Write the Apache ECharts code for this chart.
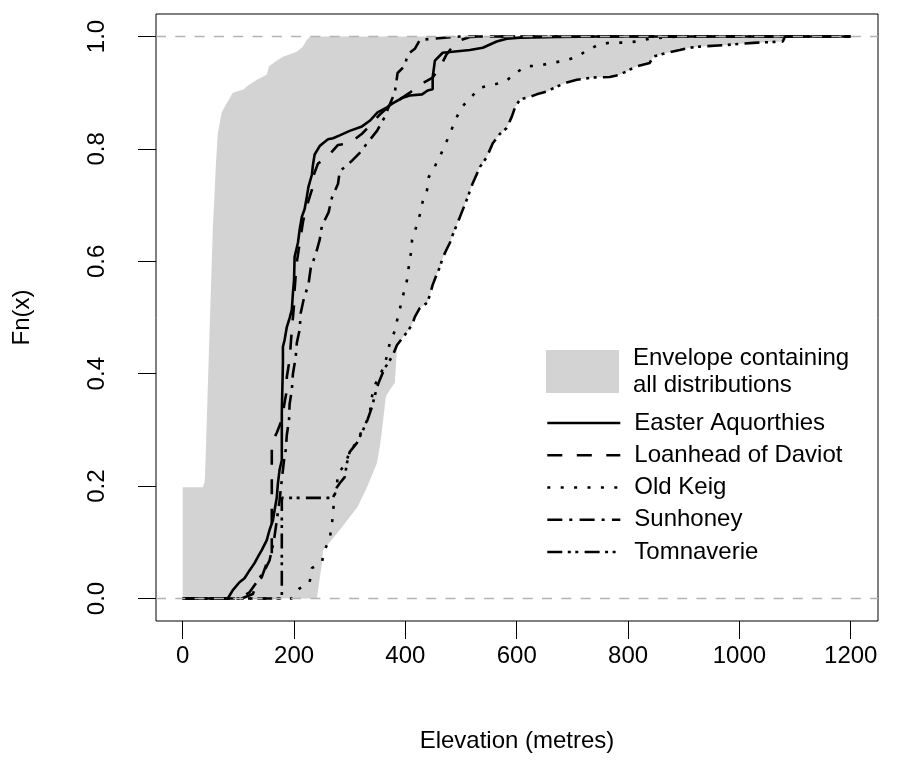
<!DOCTYPE html>
<html>
<head>
<meta charset="utf-8">
<script src="https://cdn.jsdelivr.net/npm/echarts@6/dist/echarts.min.js"></script>
<style>
html,body{margin:0;padding:0;background:#fff;}
#chart{width:898px;height:776px;}
</style>
</head>
<body>
<div id="chart"></div>
<script>
// ---- data (elevation in metres, cumulative proportion) ----
const xTicks = [0, 200, 400, 600, 800, 1000, 1200];
const yTicks = [0, 0.2, 0.4, 0.6, 0.8, 1.0];

const envelopeName = 'Envelope containing\nall distributions';
const siteNames = ['Easter Aquorthies', 'Loanhead of Daviot', 'Old Keig', 'Sunhoney', 'Tomnaverie'];

// upper-left edge of the envelope (max of all ECDFs)
const envelopeUpper = [[0,0],[0,0.198],[36,0.198],[39,0.206],[40,0.215],[47,0.437],[54,0.656],[60,0.78],[63,0.827],[70,0.865],[79,0.881],[90,0.9],[110,0.906],[115,0.911],[133,0.923],[151,0.932],[155,0.947],[166,0.955],[180,0.964],[205,0.973],[216,0.982],[223,0.994],[229,1],[1200,1]];
// lower-right edge of the envelope (min of all ECDFs)
const envelopeLower = [[0,0],[241,0],[250,0.063],[252,0.086],[282,0.122],[314,0.163],[331,0.198],[349,0.241],[354,0.27],[358,0.3],[365,0.36],[372,0.371],[381,0.384],[384,0.43],[385,0.451],[395,0.464],[403,0.474],[412,0.487],[417,0.501],[426,0.517],[439,0.526],[444,0.54],[449,0.558],[456,0.576],[462,0.59],[467,0.606],[474,0.621],[480,0.633],[485,0.647],[498,0.679],[510,0.709],[521,0.739],[534,0.768],[546,0.785],[557,0.81],[570,0.827],[582,0.837],[591,0.857],[597,0.874],[606,0.888],[618,0.891],[636,0.897],[654,0.902],[672,0.911],[690,0.918],[708,0.923],[737,0.927],[767,0.928],[785,0.932],[803,0.941],[816,0.947],[839,0.953],[845,0.964],[870,0.971],[893,0.976],[911,0.98],[929,0.982],[978,0.985],[1001,0.987],[1032,0.989],[1078,0.991],[1082,1],[1200,1]];

const easterAquorthies = [[0,0],[81,0],[90,0.015],[102,0.029],[111,0.036],[120,0.05],[129,0.063],[135,0.074],[142,0.086],[151,0.104],[156,0.122],[162,0.139],[165,0.157],[169,0.18],[171,0.205],[174,0.229],[178,0.246],[178,0.33],[180,0.419],[180,0.448],[183,0.46],[187,0.483],[192,0.499],[196,0.514],[198,0.544],[200,0.567],[201,0.608],[207,0.633],[210,0.656],[214,0.679],[219,0.693],[223,0.715],[226,0.733],[232,0.754],[234,0.772],[237,0.79],[246,0.805],[252,0.81],[261,0.817],[270,0.819],[282,0.824],[300,0.832],[322,0.84],[336,0.85],[350,0.865],[367,0.874],[377,0.881],[395,0.891],[408,0.895],[430,0.897],[440,0.904],[449,0.906],[449,0.927],[453,0.957],[467,0.971],[516,0.976],[539,0.98],[564,0.991],[582,0.996],[606,0.998],[678,0.999],[749,1],[1200,1]];

const loanheadOfDaviot = [[0,0],[106,0],[126,0.008],[133,0.027],[142,0.038],[151,0.063],[160,0.068],[160,0.277],[169,0.295],[180,0.323],[182,0.343],[187,0.371],[187,0.394],[192,0.425],[196,0.478],[200,0.523],[201,0.549],[203,0.576],[205,0.599],[216,0.67],[221,0.692],[232,0.727],[234,0.75],[243,0.774],[259,0.785],[279,0.807],[300,0.81],[322,0.827],[336,0.841],[354,0.861],[372,0.877],[390,0.888],[408,0.9],[426,0.914],[449,0.927],[462,0.945],[474,0.968],[492,0.991],[516,0.999],[534,1],[1200,1]];

const oldKeig = [[0,0],[196,0],[210,0.018],[228,0.029],[232,0.054],[250,0.065],[255,0.086],[264,0.107],[268,0.131],[270,0.154],[273,0.184],[277,0.202],[279,0.223],[291,0.237],[300,0.261],[315,0.282],[322,0.3],[332,0.318],[336,0.33],[341,0.366],[350,0.392],[361,0.41],[367,0.432],[372,0.455],[381,0.476],[386,0.499],[392,0.523],[397,0.544],[403,0.567],[406,0.59],[410,0.615],[412,0.638],[419,0.66],[426,0.683],[431,0.706],[439,0.727],[442,0.75],[453,0.769],[464,0.791],[473,0.811],[482,0.832],[492,0.856],[501,0.874],[518,0.892],[534,0.909],[557,0.914],[580,0.92],[597,0.934],[616,0.947],[640,0.948],[663,0.953],[687,0.957],[708,0.964],[726,0.975],[746,0.985],[767,0.989],[791,0.989],[816,0.991],[839,0.996],[863,0.998],[893,1],[1200,1]];

const sunhoney = [[0,0],[102,0],[120,0.011],[133,0.029],[147,0.05],[156,0.068],[164,0.104],[169,0.139],[174,0.175],[178,0.211],[182,0.246],[185,0.264],[187,0.291],[191,0.318],[192,0.346],[196,0.371],[198,0.4],[203,0.43],[205,0.455],[210,0.478],[212,0.508],[217,0.531],[226,0.56],[230,0.588],[239,0.613],[246,0.638],[250,0.663],[262,0.687],[268,0.713],[279,0.738],[282,0.76],[302,0.777],[318,0.793],[332,0.811],[349,0.832],[363,0.857],[368,0.87],[381,0.9],[386,0.935],[399,0.948],[404,0.968],[417,0.978],[426,0.994],[498,1],[1200,1]];

const tomnaverie = [[0,0],[178,0],[178,0.179],[270,0.179],[277,0.198],[282,0.205],[291,0.216],[295,0.241],[300,0.261],[313,0.277],[324,0.3],[332,0.318],[340,0.341],[349,0.376],[354,0.389],[363,0.41],[376,0.43],[385,0.451],[395,0.464],[403,0.474],[412,0.487],[417,0.501],[426,0.517],[439,0.526],[444,0.54],[449,0.558],[456,0.576],[462,0.59],[467,0.606],[474,0.621],[480,0.633],[485,0.647],[498,0.679],[510,0.709],[521,0.739],[534,0.768],[546,0.785],[557,0.81],[570,0.827],[582,0.837],[591,0.857],[597,0.874],[606,0.888],[618,0.891],[636,0.897],[654,0.902],[672,0.911],[690,0.918],[708,0.923],[737,0.927],[767,0.928],[785,0.932],[803,0.941],[816,0.947],[839,0.953],[845,0.964],[870,0.971],[893,0.976],[911,0.98],[929,0.982],[978,0.985],[1001,0.987],[1032,0.989],[1078,0.991],[1082,1],[1200,1]];

// ---- styling ----
const FONT = 'Liberation Sans, Arial, Helvetica, sans-serif';
const FS = 24;
const siteData = [easterAquorthies, loanheadOfDaviot, oldKeig, sunhoney, tomnaverie];
const siteDash = ['solid', [15, 14.5], [3, 10.4], [15, 7, 3, 7.3], [15, 5.5, 3, 4.5, 3, 6.3]];

const envelopePolygon = envelopeUpper.concat(envelopeLower.slice().reverse());

const chart = echarts.init(document.getElementById('chart'), null, {renderer: 'canvas'});

const series = [
  {
    name: envelopeName,
    type: 'custom',
    z: 1,
    itemStyle: {color: '#d3d3d3'},
    data: [[0, 0]],
    renderItem: function (params, api) {
      if (params.dataIndex !== 0) return;
      const pts = envelopePolygon.map(function (p) { return api.coord(p); });
      return {type: 'polygon', shape: {points: pts}, style: {fill: '#d3d3d3', stroke: null}};
    }
  },
  {
    name: 'refLines',
    type: 'line',
    data: [],
    z: 2,
    markLine: {
      silent: true,
      symbol: 'none',
      label: {show: false},
      animation: false,
      lineStyle: {color: '#b3b3b3', type: [10, 9.3], width: 1.3},
      data: [{yAxis: 0}, {yAxis: 1}]
    }
  }
];
siteNames.forEach(function (n, i) {
  series.push({
    name: n,
    type: 'line',
    data: siteData[i],
    z: 3,
    symbol: 'none',
    showSymbol: false,
    smooth: false,
    color: '#000',
    lineStyle: {color: '#000', width: 2.6, type: siteDash[i]}
  });
});

chart.setOption({
  animation: false,
  backgroundColor: '#fff',
  textStyle: {fontFamily: FONT},
  grid: {left: 156, right: 20, top: 14, bottom: 155, show: true, borderColor: '#000', borderWidth: 1, backgroundColor: 'transparent'},
  xAxis: {
    type: 'value', min: -48, max: 1249,
    splitLine: {show: false},
    axisLine: {show: false, onZero: false},
    axisTick: {show: true, inside: false, customValues: xTicks, length: 18, lineStyle: {color: '#000', width: 1}},
    axisLabel: {customValues: xTicks, margin: 23, fontSize: FS, color: '#000', fontFamily: FONT,
      formatter: function (v) { return String(v); }},
    name: 'Elevation (metres)', nameLocation: 'middle', nameGap: 108,
    nameTextStyle: {fontSize: FS, color: '#000', fontFamily: FONT}
  },
  yAxis: {
    type: 'value', min: -0.04, max: 1.04,
    splitLine: {show: false},
    axisLine: {show: false, onZero: false},
    axisTick: {show: true, inside: false, customValues: yTicks, length: 18, lineStyle: {color: '#000', width: 1}},
    axisLabel: {customValues: yTicks, rotate: 90, margin: 47, fontSize: FS, color: '#000', fontFamily: FONT,
      formatter: function (v) { return v.toFixed(1); }},
    name: 'Fn(x)', nameLocation: 'middle', nameGap: 122,
    nameTextStyle: {fontSize: FS, color: '#000', fontFamily: FONT}
  },
  legend: [
    {
      data: [envelopeName], left: 546, top: 344.5, orient: 'vertical', padding: 0,
      icon: 'rect', itemWidth: 73, itemHeight: 43, selectedMode: false,
      textStyle: {fontSize: FS, lineHeight: 27, color: '#000', fontFamily: FONT, padding: [0, 0, 0, 9]}
    },
    {
      data: siteNames, left: 546, top: 411, orient: 'vertical', padding: 0,
      itemWidth: 73, itemHeight: 24, itemGap: 8.25, selectedMode: false,
      itemStyle: {opacity: 0, borderWidth: 0},
      lineStyle: {width: 2.6},
      textStyle: {fontSize: FS, lineHeight: 24, color: '#000', fontFamily: FONT, padding: [0, 0, 0, 9]}
    }
  ],
  series: series
});
</script>
</body>
</html>
